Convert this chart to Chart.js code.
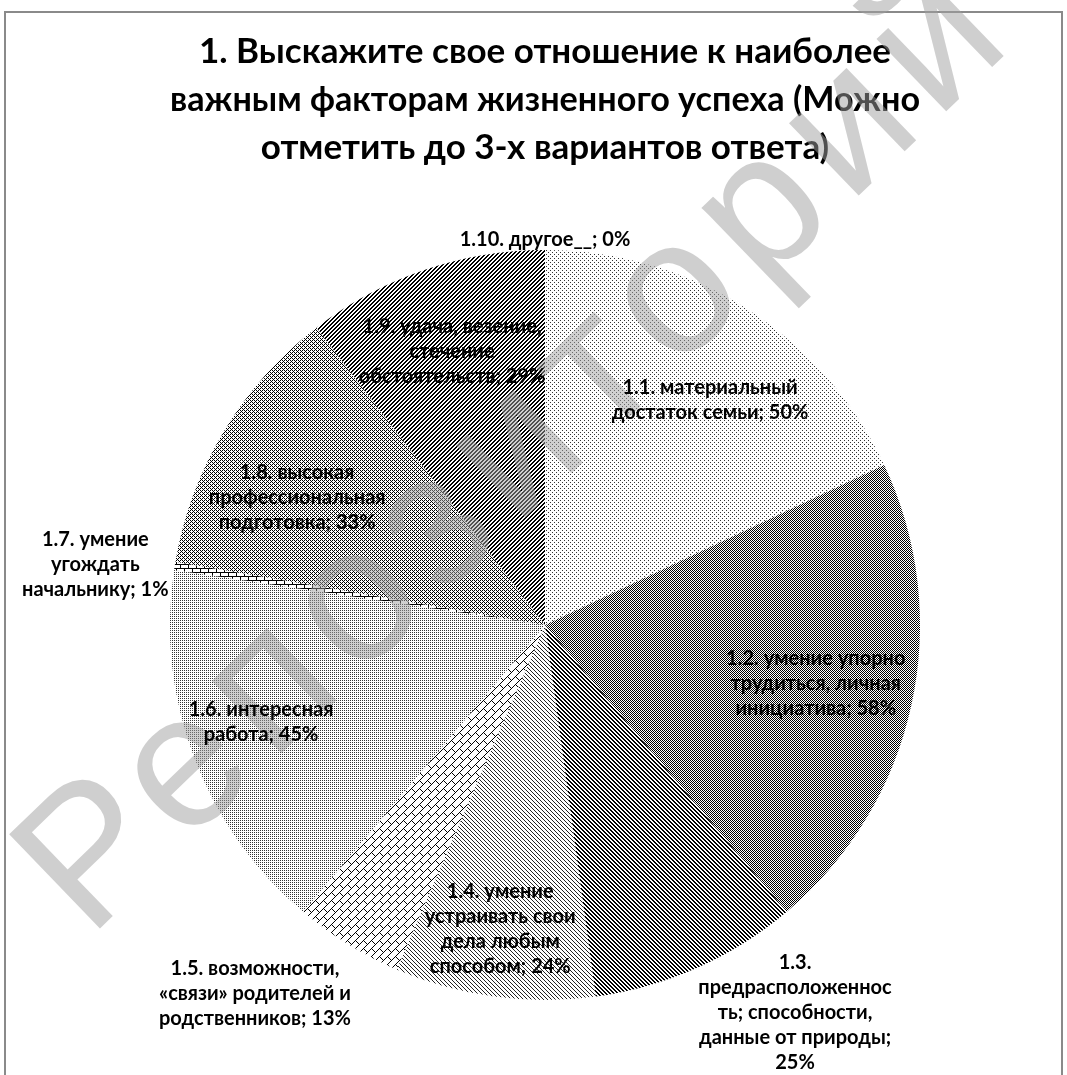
<!DOCTYPE html>
<html>
<head>
<meta charset="utf-8">
<script src="https://cdn.jsdelivr.net/npm/chart.js@4.4.1/dist/chart.umd.min.js"></script>
<style>
  html, body { margin: 0; padding: 0; background: #fff; }
  canvas { display: block; }
</style>
</head>
<body>
<canvas id="myChart" width="1067" height="1075"></canvas>
<script>
const titleLines = [
  '1. Выскажите свое отношение к наиболее',
  'важным факторам жизненного успеха (Можно',
  'отметить до 3-х вариантов ответа)'
];

// category names, '\n' marks where the label wraps
const categories = [
  '1.1. материальный\nдостаток семьи',
  '1.2. умение упорно\nтрудиться, личная\nинициатива',
  '1.3.\nпредрасположеннос\nть; способности,\nданные от природы',
  '1.4. умение\nустраивать свои\nдела любым\nспособом',
  '1.5. возможности,\n«связи» родителей и\nродственников',
  '1.6. интересная\nработа',
  '1.7. умение\nугождать\nначальнику',
  '1.8. высокая\nпрофессиональная\nподготовка',
  '1.9. удача, везение,\nстечение\nобстоятельств',
  '1.10. другое__'
];

// percent of respondents
const shares = [50, 58, 25, 24, 13, 45, 1, 33, 29, 0];

const valueOnOwnLine = [false, false, true, false, false, false, false, false, false, false];

// label anchor: [angle shift from slice middle in degrees, distance as part of radius]
const labelSpots = [
  [3.9, 0.744], [0, 0.739], [-8.9, 1.229], [0.6, 0.82], [6.5, 1.25],
  [1.9, 0.80], [-1.4, 1.21], [-3.9, 0.743], [0, 0.77], [0, 1.027]
];

function makePattern(rows, ink) {
  const c = document.createElement('canvas');
  c.width = rows[0].length;
  c.height = rows.length;
  const g = c.getContext('2d');
  g.fillStyle = '#fff';
  g.fillRect(0, 0, c.width, c.height);
  g.fillStyle = ink || '#000';
  rows.forEach((row, y) => {
    for (let x = 0; x < row.length; x++) {
      if (row[x] === 'x') g.fillRect(x, y, 1, 1);
    }
  });
  return g.createPattern(c, 'repeat');
}

const fills = [
  makePattern(['x...', '....', '..x.', '....'], '#333'),
  makePattern(['x.', '.x']),
  makePattern(['xx..', '.xx.', '..xx', 'x..x']),
  makePattern(['x...', '.x..', '..x.', '...x'], '#222'),
  makePattern([
    '.......x',
    '......x.',
    '.....x..',
    '....x...',
    '...x....',
    '..x.x...',
    '.x...x..',
    'x.....x.'
  ]),
  makePattern(['x.x.', '....', 'x.x.', '....'], '#333'),
  makePattern([
    'xxxxxxxx',
    'x.......',
    'x.......',
    'x.......',
    'xxxxxxxx',
    '....x...',
    '....x...',
    '....x...'
  ]),
  makePattern(['x.x.', '...x', 'x.x.', '.x..']),
  makePattern(['..xx', '.xx.', 'xx..', 'x..x']),
  '#fff'
];

const framePlugin = {
  id: 'frame',
  beforeDraw(chart) {
    const ctx = chart.ctx;
    ctx.save();
    ctx.fillStyle = '#fff';
    ctx.fillRect(0, 0, chart.width, chart.height);
    ctx.strokeStyle = '#8a8a8a';
    ctx.lineWidth = 2;
    ctx.strokeRect(5, 12, 1057, 1100);
    ctx.restore();
  }
};

const watermarkPlugin = {
  id: 'watermark',
  afterDatasetsDraw(chart) {
    const ctx = chart.ctx;
    const text = 'Репозиторий';
    ctx.save();
    ctx.translate(520, 450);
    ctx.rotate(-44 * Math.PI / 180);
    ctx.font = '190px "Liberation Sans"';
    const plain = ctx.measureText(text).width;
    ctx.letterSpacing = Math.max(0, (1300 - plain) / text.length) + 'px';
    ctx.textAlign = 'center';
    ctx.textBaseline = 'middle';
    ctx.fillStyle = 'rgba(160,160,160,0.5)';
    ctx.fillText(text, 0, 0);
    ctx.restore();
  }
};

const sliceLabels = {
  id: 'sliceLabels',
  afterDraw(chart) {
    const ctx = chart.ctx;
    const arcs = chart.getDatasetMeta(0).data;
    ctx.save();
    ctx.font = 'bold 20px Lato, "Open Sans", sans-serif';
    ctx.fillStyle = '#000';
    ctx.textAlign = 'center';
    ctx.textBaseline = 'middle';
    const lineH = 25;
    arcs.forEach((arc, i) => {
      const p = arc.getProps(['x', 'y', 'startAngle', 'endAngle', 'outerRadius'], true);
      const [shift, k] = labelSpots[i];
      const a = (p.startAngle + p.endAngle) / 2 + shift * Math.PI / 180;
      const cx = p.x + Math.cos(a) * p.outerRadius * k;
      const cy = p.y + Math.sin(a) * p.outerRadius * k;
      const text = categories[i] + ';' + (valueOnOwnLine[i] ? '\n' : ' ') + shares[i] + '%';
      const lines = text.split('\n');
      const top = cy - (lines.length - 1) * lineH / 2;
      lines.forEach((line, j) => ctx.fillText(line, cx, top + j * lineH));
    });
    ctx.restore();
  }
};

new Chart(document.getElementById('myChart'), {
  type: 'pie',
  data: {
    labels: categories,
    datasets: [{
      data: shares,
      backgroundColor: fills,
      borderWidth: 0
    }]
  },
  options: {
    responsive: false,
    animation: false,
    layout: { padding: { top: 0, left: 170, right: 147, bottom: 75 } },
    plugins: {
      legend: { display: false },
      tooltip: { enabled: false },
      title: {
        display: true,
        text: titleLines,
        color: '#000',
        font: { family: 'Lato, "Open Sans", sans-serif', size: 35, weight: 'bold', lineHeight: '48px' },
        padding: { top: 28, bottom: 78 }
      }
    }
  },
  plugins: [framePlugin, watermarkPlugin, sliceLabels]
});
</script>
</body>
</html>
